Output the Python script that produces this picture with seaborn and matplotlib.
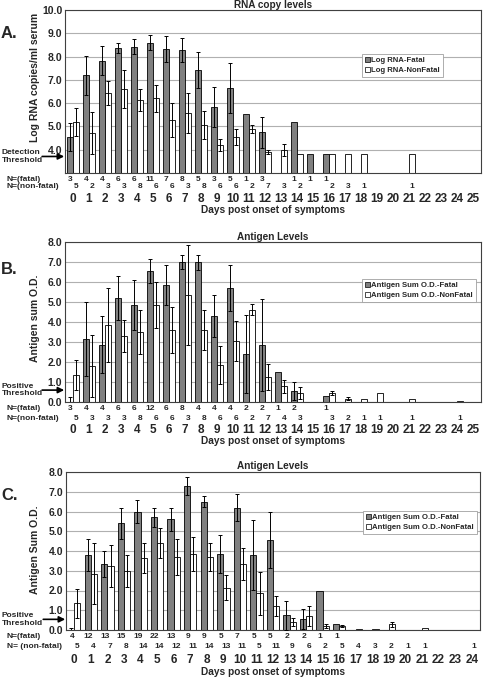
import numpy as np
import pandas as pd
import matplotlib
matplotlib.use("Agg")
import matplotlib.pyplot as plt
from matplotlib.patches import Patch
from matplotlib.transforms import blended_transform_factory
import seaborn as sns

nan = np.nan

# ---------------- data ----------------
days_ab = list(range(26))
days_c = list(range(25))

# Panel A: RNA copy levels
rna_fatal = [4.55, 7.2, 7.83, 8.38, 8.42, 8.6, 8.33, 8.28, 7.43, 5.83, 6.65, 5.52, 4.75, nan,
             5.2, 3.8, 3.8, nan, nan, nan, nan, nan, nan, nan, nan, nan]
rna_fatal_err = [0.6, 0.83, 0.62, 0.22, 0.32, 0.33, 0.57, 0.5, 0.76, 0.86, 1.07, nan, 0.67, nan,
                 nan, nan, nan, nan, nan, nan, nan, nan, nan, nan, nan, nan]
rna_nonfatal = [5.21, 4.72, 6.43, 6.6, 6.13, 6.2, 5.28, 5.58, 5.07, 4.2, 4.55, 4.88, 3.9, 4.0,
                3.8, nan, 3.8, 3.8, 3.8, nan, nan, 3.8, nan, nan, nan, nan]
rna_nonfatal_err = [0.6, 0.92, 0.5, 0.82, 0.46, 0.57, 0.72, 0.85, 0.6, 0.27, 0.34, 0.17, 0.1, 0.25,
                    nan, nan, nan, nan, nan, nan, nan, nan, nan, nan, nan, nan]
rna_n_fatal = ['3', '4', '4', '6', '6', '11', '7', '8', '5', '3', '5', '1', '3', '',
               '1', '1', '1', '', '', '', '', '', '', '', '', '']
rna_n_nonfatal = ['5', '2', '3', '3', '8', '6', '6', '3', '8', '6', '6', '2', '7', '3',
                  '2', '', '2', '3', '1', '', '', '1', '', '', '', '']

# Panel B: Antigen levels
agb_fatal = [0.0, 3.15, 2.85, 5.2, 4.85, 6.55, 5.85, 7.0, 6.97, 4.27, 5.7, 2.4, 2.85, 1.48,
             0.55, nan, 0.3, nan, nan, nan, nan, nan, nan, nan, nan, nan]
agb_fatal_err = [0.22, 1.85, 1.42, 1.1, 1.25, 0.6, 1.0, 0.35, 0.38, 1.05, 1.15, 1.95, 2.3, nan,
                 0.45, nan, nan, nan, nan, nan, nan, nan, nan, nan, nan, nan]
agb_nonfatal = [1.35, 1.8, 3.85, 3.3, 3.5, 4.85, 3.6, 5.35, 3.6, 1.85, 3.05, 4.6, 1.25, 0.78,
                0.42, nan, 0.42, 0.15, 0.15, 0.42, nan, 0.15, nan, nan, 0.03, nan]
agb_nonfatal_err = [0.75, 1.55, 1.85, 0.8, 1.1, 1.15, 1.15, 2.5, 1.0, 0.95, 1.0, 0.28, 0.65, 0.33,
                    0.3, nan, 0.1, 0.08, nan, nan, nan, nan, nan, nan, nan, nan]
agb_n_fatal = ['3', '4', '4', '6', '6', '12', '6', '8', '4', '4', '4', '2', '2', '1',
               '2', '', '1', '', '', '', '', '', '', '', '', '']
agb_n_nonfatal = ['5', '3', '3', '3', '8', '6', '6', '3', '8', '6', '6', '2', '7', '4',
                  '3', '', '3', '2', '1', '1', '', '1', '', '', '1', '']

# Panel C: Antigen levels
agc_fatal = [0.0, 3.8, 3.35, 5.4, 6.0, 5.7, 5.6, 7.3, 6.5, 3.85, 6.2, 3.8, 4.55, 0.75,
             0.55, 2.0, 0.3, nan, nan, nan, nan, nan, nan, nan, nan]
agc_fatal_err = [0.1, 0.8, 0.65, 0.78, 0.6, 0.5, 0.6, 0.47, 0.27, 0.95, 0.7, 1.75, 1.4, 0.73,
                 0.5, nan, nan, nan, nan, nan, nan, nan, nan, nan, nan]
agc_nonfatal = [1.35, 2.85, 3.25, 3.0, 3.65, 4.4, 3.7, 3.85, 3.7, 2.15, 3.35, 1.85, 1.2, 0.4,
                0.7, 0.2, 0.2, 0.06, 0.05, 0.3, 0.02, 0.12, nan, nan, 0.02]
agc_nonfatal_err = [0.75, 1.55, 1.05, 0.8, 0.75, 0.75, 0.9, 0.85, 0.7, 0.65, 0.8, 1.1, 0.5, 0.2,
                    0.5, 0.12, 0.05, nan, nan, 0.13, nan, nan, nan, nan, nan]
agc_n_fatal = ['4', '12', '13', '15', '19', '22', '13', '9', '9', '5', '7', '5', '5', '2',
               '2', '1', '1', '', '', '', '', '', '', '', '']
agc_n_nonfatal = ['5', '4', '7', '8', '14', '14', '12', '11', '14', '13', '11', '5', '11', '9',
                  '6', '2', '5', '4', '3', '2', '1', '1', '', '', '1']

series_a = ['Log RNA-Fatal', 'Log RNA-NonFatal']
series_b = ['Antigen Sum O.D.-Fatal', 'Antigen Sum O.D.-NonFatal']
series_c = ['Antigen Sum O.D.-Fatal', 'Antigen Sum O.D.-NonFatal']

# ---------------- style ----------------
W, H = 485, 677
sns.set_theme(style="white")
plt.rcParams['font.family'] = ['Liberation Sans', 'DejaVu Sans']
plt.rcParams['font.weight'] = 'bold'
plt.rcParams['axes.labelweight'] = 'bold'
plt.rcParams['axes.titleweight'] = 'bold'

FATAL = '#808080'
fig = plt.figure(figsize=(W / 100, H / 100), dpi=100)


def fx(px):
    return px / W


def fy(py):
    return 1 - py / H


def panel(rect, days, fatal, fatal_err, nonfatal, nonfatal_err, n_fatal, n_nonfatal,
          names, ylim, yticks, title, title_base, ylabel, ylabel_c, letter, letter_y,
          thr_text, thr_val, leg_xy, rows, tick_pad, xlabel_y, nonfat_label, noff):
    left, top, right, bottom = rect
    ax = fig.add_axes([fx(left), fy(bottom), fx(right) - fx(left), fy(top) - fy(bottom)])
    recs = []
    for d, v in zip(days, fatal):
        if not np.isnan(v):
            recs.append((str(d), v, names[0]))
    for d, v in zip(days, nonfatal):
        if not np.isnan(v):
            recs.append((str(d), v, names[1]))
    df = pd.DataFrame(recs, columns=['day', 'value', 'series'])
    sns.barplot(data=df, x='day', y='value', hue='series',
                order=[str(d) for d in days], hue_order=names,
                palette=[FATAL, 'white'], saturation=1, width=0.75,
                edgecolor='black', linewidth=0.6, errorbar=None, legend=False, ax=ax)
    for p in list(ax.patches):
        cx = p.get_x() + p.get_width() / 2
        idx = int(round(cx))
        is_fatal = p.get_facecolor()[0] < 0.9
        e = (fatal_err if is_fatal else nonfatal_err)[idx]
        if not np.isnan(e):
            ax.errorbar(cx, p.get_height(), yerr=e, fmt='none', ecolor='black',
                        elinewidth=0.7, capsize=1.6, capthick=0.7, zorder=5)
    ax.set_ylim(*ylim)
    ax.set_yticks(yticks)
    ax.set_yticklabels([f"{t:.1f}" for t in yticks])
    ax.set_xlim(-0.5, len(days) - 0.5)
    ax.yaxis.grid(True, color='#b0b0b0', lw=0.8)
    ax.xaxis.grid(False)
    ax.set_axisbelow(True)
    for s in ax.spines.values():
        s.set_color('#404040')
        s.set_linewidth(0.8)
    ax.tick_params(axis='x', length=0, pad=tick_pad, labelsize=8.5)
    ax.tick_params(axis='y', length=0, pad=2, labelsize=7.5)
    ax.set_xlabel('')
    ax.set_ylabel('')
    cxp = (left + right) / 2
    fig.text(fx(cxp), fy(title_base), title, ha='center', va='baseline', fontsize=7.2)
    fig.text(fx(35), fy(ylabel_c), ylabel, rotation=90, ha='center', va='center', fontsize=7.5)
    fig.text(fx(1), fy(letter_y), letter, ha='left', va='center', fontsize=12)
    fig.text(fx(cxp), fy(xlabel_y), 'Days post onset of symptoms', ha='center', va='center',
             fontsize=7.3)
    # threshold
    ax.annotate('', xy=(-0.002, thr_val), xycoords=('axes fraction', 'data'),
                xytext=(-0.055, thr_val), textcoords=('axes fraction', 'data'),
                arrowprops=dict(arrowstyle='-|>', color='black', lw=1.2,
                                mutation_scale=9, shrinkA=0, shrinkB=0),
                annotation_clip=False)
    tr_thr = blended_transform_factory(fig.transFigure, ax.transData)
    fig.text(fx(2), thr_val, thr_text, transform=tr_thr, ha='left', va='center',
             fontsize=6, linespacing=1.15)
    # N rows
    fig.text(fx(7), fy(rows[0]), 'N=(fatal)', ha='left', va='center', fontsize=6)
    fig.text(fx(7), fy(rows[1]), nonfat_label, ha='left', va='center', fontsize=6)
    tr = blended_transform_factory(ax.transData, fig.transFigure)
    for i in range(len(days)):
        if n_fatal[i]:
            ax.text(i - noff, fy(rows[0]), n_fatal[i], transform=tr, ha='center',
                    va='center', fontsize=6)
        if n_nonfatal[i]:
            ax.text(i + noff, fy(rows[1]), n_nonfatal[i], transform=tr, ha='center',
                    va='center', fontsize=6)
    handles = [Patch(facecolor=FATAL, edgecolor='black', lw=0.5),
               Patch(facecolor='white', edgecolor='black', lw=0.5)]
    leg = ax.legend(handles, names, loc='upper left', bbox_to_anchor=(fx(leg_xy[0]), fy(leg_xy[1])),
                    bbox_transform=fig.transFigure, fontsize=5.6, frameon=True, fancybox=False,
                    edgecolor='#a0a0a0', framealpha=1, handlelength=0.6, handleheight=0.6,
                    handletextpad=0.15, borderpad=0.4, labelspacing=0.35, borderaxespad=0)
    leg.get_frame().set_linewidth(0.6)
    return ax


panel((65, 10, 481, 173), days_ab, rna_fatal, rna_fatal_err, rna_nonfatal, rna_nonfatal_err,
      rna_n_fatal, rna_n_nonfatal, series_a, (3, 10), [4, 5, 6, 7, 8, 9, 10],
      'RNA copy levels', 8, 'Log RNA copies/ml serum', 77.5, 'A.', 34,
      'Detection\nThreshold', 3.71, (362, 54), (180, 187), 14.5, 210, 'N=(non-fatal)', 0.19)

panel((65, 241.7, 481, 401.7), days_ab, agb_fatal, agb_fatal_err, agb_nonfatal, agb_nonfatal_err,
      agb_n_fatal, agb_n_nonfatal, series_b, (0, 8), [0, 1, 2, 3, 4, 5, 6, 7, 8],
      'Antigen Levels', 240, 'Antigen sum O.D.', 318.5, 'B.', 269,
      'Positive\nThreshold', 0.58, (362, 279), (409, 418), 16.0, 441, 'N=(non-fatal)', 0.19)

panel((66, 472, 480, 630), days_c, agc_fatal, agc_fatal_err, agc_nonfatal, agc_nonfatal_err,
      agc_n_fatal, agc_n_nonfatal, series_c, (0, 8), [0, 1, 2, 3, 4, 5, 6, 7, 8],
      'Antigen Levels', 469, 'Antigen Sum O.D.', 550, 'C.', 495,
      'Positive\nThreshold', 0.54, (363, 511), (637, 647), 17.0, 672, 'N= (non-fatal)', 0.15)

fig.savefig('out.png', dpi=100)
